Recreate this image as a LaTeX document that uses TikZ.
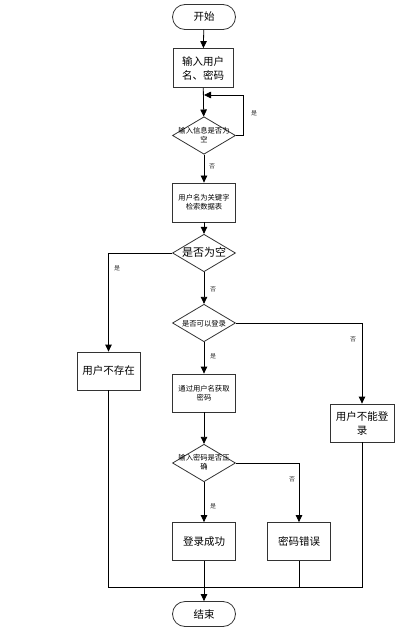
\documentclass[tikz,border=0pt]{standalone}
\usepackage{fontspec}
\setmainfont{Noto Sans CJK SC}
\usetikzlibrary{arrows.meta,shapes.geometric}
\newcommand{\dtext}[2]{\smash{\raisebox{#1}{\makebox[0pt]{\begin{tabular}{@{}c@{}}#2\end{tabular}}}}}
\begin{document}
\begin{tikzpicture}[x=1pt,y=-1pt,
  line width=0.8pt,
  box/.style={draw=black!80, rectangle, minimum width=63pt, minimum height=38pt, inner sep=1pt, align=center},
  term/.style={draw=black!80, rectangle, rounded corners=12.5pt, minimum width=63pt, minimum height=25pt, inner sep=1pt, font=\fontsize{10.5}{12}\selectfont},
  dec/.style={draw=black!80, diamond, minimum width=63pt, minimum height=37.5pt, inner sep=0pt},
  big/.style={font=\fontsize{10.5}{14}\selectfont},
  small/.style={font=\fontsize{7.3}{9}\selectfont},
  lbl/.style={font=\fontsize{6}{7}\selectfont, text=black!80},
  arr/.style={-{Triangle[length=7pt,width=6.5pt]}},
]
\useasboundingbox (0,0) rectangle (405,631);

\node[term] (start) at (204,17) {开始};
\node[box,big,minimum width=60pt,minimum height=39pt] (inp) at (203,68) {输入用户\\名、密码};
\node[dec,small] (d1) at (204,135.5) {\dtext{-2pt}{输入信息是否为\\空}};
\node[box,small,minimum height=39pt] (search) at (204,202.5) {用户名为关键字\\检索数据表};
\node[dec,font=\fontsize{11}{13}\selectfont] (d2) at (204,253) {\dtext{-4pt}{是否为空}};
\node[dec,small] (d3) at (204,323) {\dtext{-3pt}{是否可以登录}};
\node[box,big] (notexist) at (108.5,371) {用户不存在};
\node[box,small] (getpw) at (204,393) {通过用户名获取\\密码};
\node[box,big,minimum width=64pt] (cannot) at (362,423) {用户不能登\\录};
\node[dec,small] (d4) at (204,463) {\dtext{-2pt}{输入密码是否正\\确}};
\node[box,big] (ok) at (204,541.5) {登录成功};
\node[box,big] (wrong) at (299,541.5) {密码错误};
\node[term] (end) at (204,614) {结束};

\coordinate (loopin) at (204,95);
\coordinate (loopr) at (243,95);
\coordinate (mleft) at (108.5,587.5);
\coordinate (mright) at (362,587.5);
\coordinate (mwrong) at (299,587.5);

\draw[arr] (start) -- (inp);
\draw[arr] (inp) -- (d1);
\draw[arr] (d1.east) -- (d1.east -| loopr) -- (loopr) -- (loopin);
\node[lbl] (l1) at (254,113) {是};
\draw[arr] (d1) -- (search);
\node[lbl] (l2) at (212,166) {否};
\draw[arr] (search) -- (d2);
\draw[arr] (d2.west) -| (notexist.north);
\node[lbl] (l3) at (117,268) {是};
\draw[arr] (d2) -- (d3);
\node[lbl] (l4) at (213,289) {否};
\draw[arr] (d3.east) -| (cannot.north);
\node[lbl] (l5) at (353,339) {否};
\draw[arr] (d3) -- (getpw);
\node[lbl] (l6) at (213,356) {是};
\draw[arr] (getpw) -- (d4);
\draw[arr] (d4) -- (ok);
\node[lbl] (l7) at (213,506) {是};
\draw[arr] (d4.east) -| (wrong.north);
\node[lbl] (l8) at (292,479) {否};
\draw[arr] (ok) -- (end);
\draw (notexist.south) -- (mleft) -- (mright) -- (cannot.south);
\draw (wrong.south) -- (mwrong);
\end{tikzpicture}
\end{document}
